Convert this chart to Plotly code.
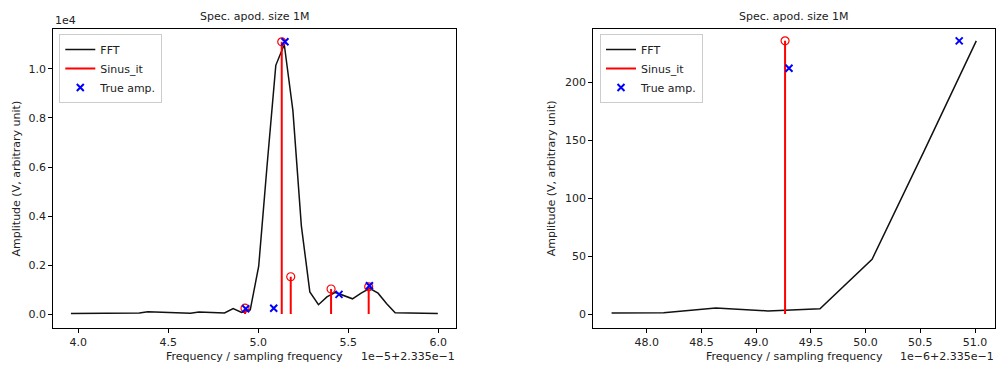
import plotly.graph_objects as go

# ---------------- Data ----------------
# Left panel: frequency offsets in units of 1e-5 (relative to 0.2335)
fft_left_freq = [3.959, 4.007, 4.054, 4.102, 4.149, 4.196, 4.244, 4.291, 4.339, 4.386,
                 4.433, 4.481, 4.528, 4.575, 4.623, 4.670, 4.718, 4.765, 4.812, 4.860,
                 4.907, 4.955, 5.002, 5.049, 5.097, 5.144, 5.192, 5.239, 5.286, 5.334,
                 5.381, 5.428, 5.476, 5.523, 5.571, 5.618, 5.665, 5.713, 5.760, 5.807,
                 5.855, 5.902, 5.950, 5.997]
fft_left_amp = [20, 20, 15, 20, 15, 20, 15, 30, 40, 90,
                80, 70, 50, 40, 30, 80, 60, 40, 40, 220,
                60, 170, 1950, 6100, 10150, 11000, 8300, 3600, 900, 380,
                700, 880, 750, 620, 850, 1050, 850, 420, 50, 40,
                50, 30, 40, 20]
sinus_left_freq = [4.926, 5.130, 5.180, 5.404, 5.613]
sinus_left_amp = [236, 11110, 1520, 1020, 1110]
true_left_freq = [4.930, 5.0855, 5.148, 5.448, 5.617]
true_left_amp = [212, 236, 11110, 800, 1150]

left_xticks = [4.0, 4.5, 5.0, 5.5, 6.0]
left_xticklabels = ["4.0", "4.5", "5.0", "5.5", "6.0"]
left_yticks = [0, 2000, 4000, 6000, 8000, 10000]
left_yticklabels = ["0.0", "0.2", "0.4", "0.6", "0.8", "1.0"]

# Right panel: frequency offsets in units of 1e-6 (relative to 0.2335)
fft_right_freq = [47.679, 48.155, 48.631, 49.107, 49.583, 50.059, 50.535, 51.011]
fft_right_amp = [0.8, 1.2, 5.3, 2.7, 4.6, 47.3, 141, 236]
sinus_right_freq = [49.264]
sinus_right_amp = [236]
true_right_freq = [49.30, 50.855]
true_right_amp = [212.3, 236]

right_xticks = [48.0, 48.5, 49.0, 49.5, 50.0, 50.5, 51.0]
right_xticklabels = ["48.0", "48.5", "49.0", "49.5", "50.0", "50.5", "51.0"]
right_yticks = [0, 50, 100, 150, 200]
right_yticklabels = ["0", "50", "100", "150", "200"]

# ---------------- Figure ----------------
W, H = 996, 365
FONT = "DejaVu Sans"
FS = 11


def px_x(p):
    return p / W


def px_y(p):
    return 1 - p / H


def stem_xy(xs, ys):
    sx, sy = [], []
    for x, y in zip(xs, ys):
        sx += [x, x, None]
        sy += [0, y, None]
    return sx, sy


fig = go.Figure()

panels = [
    dict(xa="x", ya="y", leg="legend",
         ff=fft_left_freq, fa=fft_left_amp,
         sf=sinus_left_freq, sa=sinus_left_amp,
         tf=true_left_freq, ta=true_left_amp),
    dict(xa="x2", ya="y2", leg="legend2",
         ff=fft_right_freq, fa=fft_right_amp,
         sf=sinus_right_freq, sa=sinus_right_amp,
         tf=true_right_freq, ta=true_right_amp),
]

for p in panels:
    fig.add_trace(go.Scatter(x=p["ff"], y=p["fa"], mode="lines", name="FFT",
                             line=dict(color="#111111", width=1.5),
                             xaxis=p["xa"], yaxis=p["ya"], legend=p["leg"]))
    sx, sy = stem_xy(p["sf"], p["sa"])
    fig.add_trace(go.Scatter(x=sx, y=sy, mode="lines", name="Sinus_it",
                             line=dict(color="#ff0000", width=2),
                             xaxis=p["xa"], yaxis=p["ya"], legend=p["leg"]))
    fig.add_trace(go.Scatter(x=p["sf"], y=p["sa"], mode="markers", showlegend=False,
                             marker=dict(symbol="circle-open", color="#ff0000", size=8,
                                         line=dict(width=1.2, color="#ff0000")),
                             xaxis=p["xa"], yaxis=p["ya"]))
    fig.add_trace(go.Scatter(x=p["tf"], y=p["ta"], mode="markers", name="True amp.",
                             marker=dict(symbol="x-thin", color="#0000ff", size=7,
                                         line=dict(width=2, color="#0000ff")),
                             xaxis=p["xa"], yaxis=p["ya"], legend=p["leg"]))

axis_common = dict(showgrid=False, zeroline=False, showline=True, linecolor="black",
                   linewidth=1, mirror=True, ticks="outside", ticklen=4, tickwidth=1,
                   tickcolor="black", tickfont=dict(family=FONT, size=FS, color="#222222"))

legend_common = dict(xanchor="left", yanchor="top",
                     bgcolor="rgba(255,255,255,0.8)", bordercolor="#cccccc", borderwidth=1,
                     font=dict(family=FONT, size=FS, color="#222222"), itemwidth=30,
                     tracegroupgap=0)

fig.update_layout(
    width=W, height=H, margin=dict(l=0, r=0, t=0, b=0),
    paper_bgcolor="white", plot_bgcolor="white",
    font=dict(family=FONT, size=FS, color="#222222"),
    xaxis=dict(domain=[px_x(53.3), px_x(456)], range=[3.861, 6.098],
               tickvals=left_xticks, ticktext=left_xticklabels, anchor="y", **axis_common),
    yaxis=dict(domain=[px_y(327.7), px_y(29.3)], range=[-559, 11620],
               tickvals=left_yticks, ticktext=left_yticklabels, anchor="x", **axis_common),
    xaxis2=dict(domain=[px_x(593.3), px_x(995)], range=[47.512, 51.182],
                tickvals=right_xticks, ticktext=right_xticklabels, anchor="y2", **axis_common),
    yaxis2=dict(domain=[px_y(327.7), px_y(29.3)], range=[-11.8, 246],
                tickvals=right_yticks, ticktext=right_yticklabels, anchor="x2", **axis_common),
    legend=dict(x=px_x(59.3), y=px_y(34), **legend_common),
    legend2=dict(x=px_x(600), y=px_y(34), **legend_common),
)

ann_font = dict(family=FONT, size=FS, color="#222222")
annotations = [
    # titles
    dict(text="Spec. apod. size 1M", x=px_x(254.7), y=px_y(16.7), xanchor="center", yanchor="middle"),
    dict(text="Spec. apod. size 1M", x=px_x(794), y=px_y(16.7), xanchor="center", yanchor="middle"),
    # y-offset
    dict(text="1e4", x=px_x(53), y=px_y(20), xanchor="left", yanchor="middle"),
    # y labels
    dict(text="Amplitude (V, arbitrary unit)", x=px_x(16), y=px_y(178.5), xanchor="center",
         yanchor="middle", textangle=-90),
    dict(text="Amplitude (V, arbitrary unit)", x=px_x(551.7), y=px_y(178.5), xanchor="center",
         yanchor="middle", textangle=-90),
    # x labels
    dict(text="Frequency / sampling frequency", x=px_x(254.7), y=px_y(356.7), xanchor="center",
         yanchor="middle"),
    dict(text="Frequency / sampling frequency", x=px_x(794), y=px_y(356.7), xanchor="center",
         yanchor="middle"),
    # x offsets
    dict(text="1e\u22125+2.335e\u22121", x=px_x(456.5), y=px_y(356.7), xanchor="right", yanchor="middle"),
    dict(text="1e\u22126+2.335e\u22121", x=px_x(996), y=px_y(356.7), xanchor="right", yanchor="middle"),
]
for a in annotations:
    fig.add_annotation(xref="paper", yref="paper", showarrow=False, font=ann_font, **a)

fig.write_html("out.html", config={"displayModeBar": False},
               post_script="document.body.style.margin='0';document.body.style.overflow='hidden';")
